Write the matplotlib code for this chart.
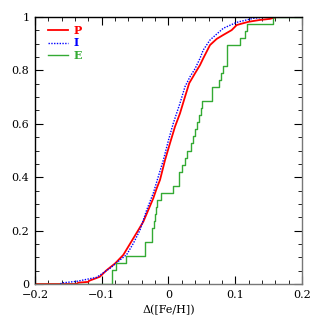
import numpy as np
import matplotlib
matplotlib.use("Agg")
import matplotlib.pyplot as plt
from matplotlib.ticker import MultipleLocator

# P sample cumulative curve
p_x = [-0.2, -0.138, -0.135, -0.12, -0.119, -0.103, -0.0926, -0.080, -0.0677,
       -0.0602, -0.0527, -0.0452, -0.0378, -0.0303, -0.0228, -0.0177, -0.0127,
       -0.0052, 0.0022, 0.0097, 0.0172, 0.0247, 0.031, 0.0397, 0.0472, 0.052,
       0.0622, 0.0722, 0.0822, 0.0947, 0.1022, 0.1197, 0.137, 0.152, 0.162]
p_y = [0.0, 0.0, 0.005, 0.008, 0.012, 0.027, 0.052, 0.077, 0.109,
       0.14, 0.171, 0.202, 0.233, 0.277, 0.321, 0.358, 0.39,
       0.464, 0.527, 0.589, 0.639, 0.701, 0.752, 0.789, 0.82, 0.845,
       0.895, 0.918, 0.933, 0.951, 0.970, 0.982, 0.989, 0.993, 1.0]

# I sample
i_x = [-0.162, -0.16, -0.1375, -0.1076, -0.0876, -0.0727, -0.0627, -0.0527,
       -0.0427, -0.0327, -0.0228, -0.0153, -0.0077, 0.0, 0.0072, 0.0172,
       0.0247, 0.0322, 0.0397, 0.0472, 0.052, 0.0622, 0.0822, 0.1022, 0.127, 0.147]
i_y = [0.0, 0.004, 0.01, 0.025, 0.059, 0.09, 0.11, 0.152,
       0.202, 0.277, 0.34, 0.402, 0.464, 0.539, 0.602, 0.677,
       0.739, 0.776, 0.806, 0.845, 0.876, 0.914, 0.958, 0.98, 0.995, 1.0]

# E sample: individual [Fe/H] differences (38 stars)
e_vals = [-0.085, -0.085, -0.078, -0.063, -0.035, -0.035, -0.024, -0.024,
          -0.022, -0.020, -0.019, -0.017, -0.011, 0.006, 0.016, 0.016,
          0.020, 0.025, 0.028, 0.033, 0.036, 0.039, 0.042, 0.046, 0.048,
          0.050, 0.065, 0.065, 0.076, 0.079, 0.082, 0.087, 0.087, 0.087,
          0.107, 0.115, 0.117, 0.157]

labels = ["P", "I", "E"]
colors = ["#ff0000", "#0000ff", "#33aa33"]

e_sorted = np.sort(e_vals)
e_cdf = np.arange(1, len(e_sorted) + 1) / len(e_sorted)
e_x = np.concatenate([[-0.2], e_sorted, [0.2]])
e_y = np.concatenate([[0.0], e_cdf, [1.0]])

fig = plt.figure(figsize=(3.19, 3.19), dpi=100)
ax = fig.add_axes([0.1097, 0.1097, 0.837, 0.837])

ax.plot(p_x, p_y, color=colors[0], lw=1.3)
ax.plot(i_x, i_y, color=colors[1], lw=1.0, ls=(0, (1, 1)))
ax.plot(e_x, e_y, color=colors[2], lw=1.0, drawstyle="steps-post")

# legend drawn by hand like the original
for k, (lab, col) in enumerate(zip(labels, colors)):
    yy = 0.95 - 0.047 * k
    ax.plot([-0.18, -0.15], [yy, yy], color=col, lw=1.3 if k == 0 else 1.0,
            ls=(0, (1, 1)) if k == 1 else "-")
    ax.text(-0.142, yy, lab, color=col, fontsize=8, fontweight="bold",
            family="DejaVu Serif", va="center", ha="left")

ax.set_xlim(-0.2, 0.2)
ax.set_ylim(0, 1)
ax.xaxis.set_minor_locator(MultipleLocator(0.02))
ax.yaxis.set_minor_locator(MultipleLocator(0.05))
ax.tick_params(which="both", direction="in", top=True, right=True,
               labelsize=8, pad=4)
ax.tick_params(which="major", length=6)
ax.tick_params(which="minor", length=3)
ax.set_xticks([-0.2, -0.1, 0, 0.1, 0.2])
ax.set_xticklabels(["\u22120.2", "\u22120.1", "0", "0.1", "0.2"], family="DejaVu Serif")
ax.set_yticks([0, 0.2, 0.4, 0.6, 0.8, 1.0])
ax.set_yticklabels(["0", "0.2", "0.4", "0.6", "0.8", "1"], family="DejaVu Serif")
for s in ax.spines.values():
    s.set_linewidth(1.0)
ax.spines["bottom"].set_color("#777777")
ax.spines["right"].set_color("#777777")

ax.set_xlabel("\u0394([Fe/H])", fontsize=8, family="DejaVu Serif", labelpad=4)

fig.savefig("out.png", dpi=100)
